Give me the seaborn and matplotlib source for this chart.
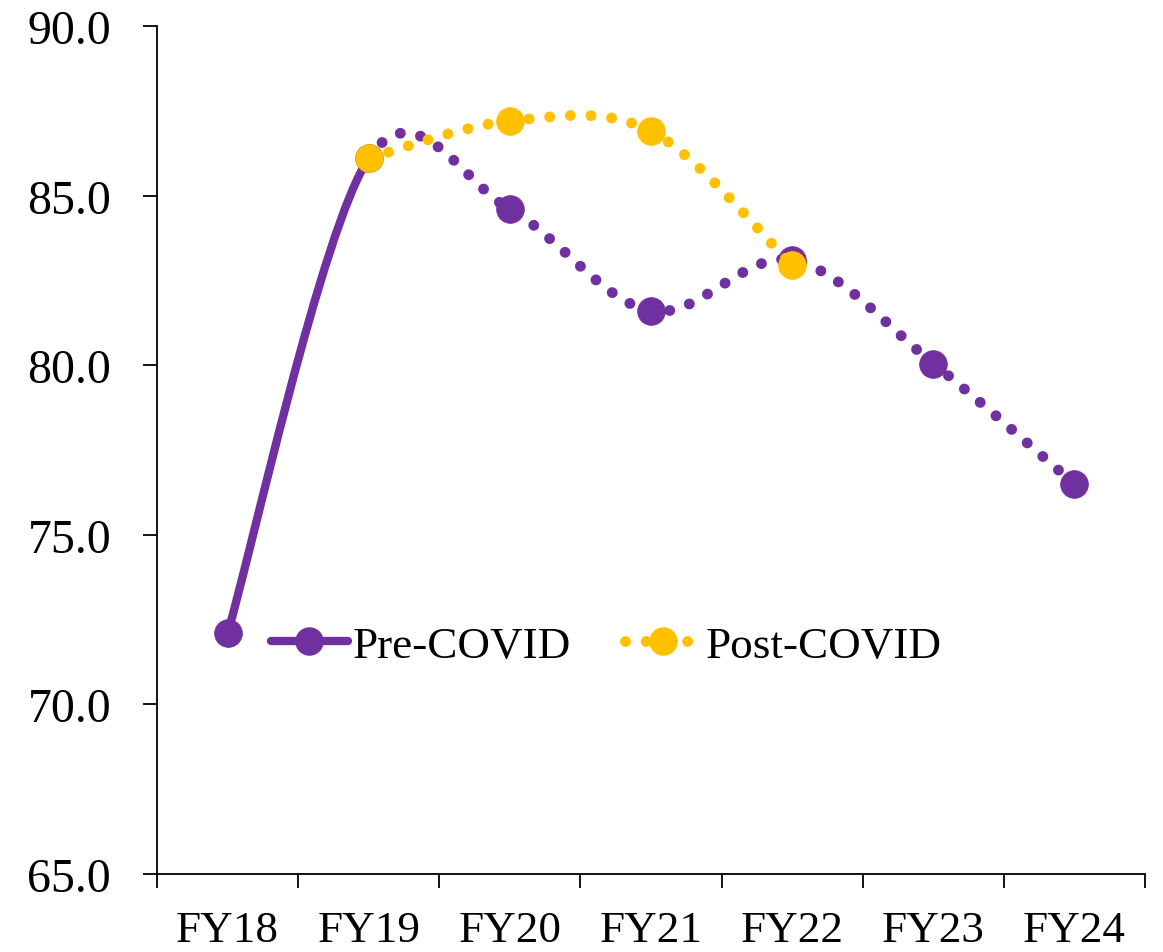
import matplotlib
matplotlib.use("Agg")
import matplotlib.pyplot as plt
import seaborn as sns
import pandas as pd
from matplotlib.path import Path
from matplotlib.patches import PathPatch
from matplotlib.lines import Line2D

# ---- data ----
years = ["FY18", "FY19", "FY20", "FY21", "FY22", "FY23", "FY24"]
pre_covid = [72.1, 86.1, 84.6, 81.6, 83.1, 80.05, 76.5]
post_covid_years = ["FY19", "FY20", "FY21", "FY22"]
post_covid = [86.1, 87.2, 86.9, 82.95]
y_ticks = [65.0, 70.0, 75.0, 80.0, 85.0, 90.0]

PURPLE = "#7030A0"
GOLD = "#FFC000"

sns.set_theme(style="white")
plt.rcParams['font.family'] = ['Liberation Serif', 'DejaVu Serif']
plt.rcParams['text.color'] = 'black'
plt.rcParams['xtick.color'] = 'black'
plt.rcParams['ytick.color'] = 'black'
plt.rcParams['xtick.labelcolor'] = 'black'
plt.rcParams['ytick.labelcolor'] = 'black'

fig = plt.figure(figsize=(11.63, 9.53), dpi=100)
ax = fig.add_axes([0.135, 0.0818, 0.8495, 0.8899])


def smooth_path(xs, ys, start, end):
    """Excel-like smoothed Bezier path for segments start..end-1 (via matplotlib Path)."""
    n = len(xs)
    verts, codes = [], []
    for i in range(start, end):
        p0 = (xs[max(i - 1, 0)], ys[max(i - 1, 0)])
        p1 = (xs[i], ys[i])
        p2 = (xs[i + 1], ys[i + 1])
        p3 = (xs[min(i + 2, n - 1)], ys[min(i + 2, n - 1)])
        c1 = (p1[0] + (p2[0] - p0[0]) / 6, p1[1] + (p2[1] - p0[1]) / 6)
        c2 = (p2[0] - (p3[0] - p1[0]) / 6, p2[1] - (p3[1] - p1[1]) / 6)
        if not verts:
            verts.append(p1)
            codes.append(Path.MOVETO)
        verts += [c1, c2, p2]
        codes += [Path.CURVE4] * 3
    return Path(verts, codes)


pos = {y: i for i, y in enumerate(years)}
pre_x = [pos[y] for y in years]
post_x = [pos[y] for y in post_covid_years]

dotted = (0, (0.01, 1.9))

# Pre-COVID: solid first segment, dotted afterwards
ax.add_patch(PathPatch(smooth_path(pre_x, pre_covid, 0, 1), fill=False,
                       edgecolor=PURPLE, lw=6, capstyle='round', zorder=2))
ax.add_patch(PathPatch(smooth_path(pre_x, pre_covid, 1, len(pre_x) - 1), fill=False,
                       edgecolor=PURPLE, lw=7.8, linestyle=dotted,
                       capstyle='round', zorder=2))
df_pre = pd.DataFrame({"x": pre_x, "y": pre_covid})
sns.scatterplot(data=df_pre, x="x", y="y", ax=ax, color=PURPLE, s=400,
                edgecolor=PURPLE, linewidth=0.5, zorder=3)

# Post-COVID
ax.add_patch(PathPatch(smooth_path(post_x, post_covid, 0, len(post_x) - 1), fill=False,
                       edgecolor=GOLD, lw=7.8, linestyle=dotted,
                       capstyle='round', zorder=4))
df_post = pd.DataFrame({"x": post_x, "y": post_covid})
sns.scatterplot(data=df_post, x="x", y="y", ax=ax, color=GOLD, s=400,
                edgecolor=GOLD, linewidth=0.5, zorder=5)

# axes
ax.set_xlim(-0.5, len(years) - 0.5)
ax.set_ylim(65, 90)
ax.set_xlabel("")
ax.set_ylabel("")
ax.set_yticks(y_ticks)
ax.set_yticklabels([f"{v:.1f}" for v in y_ticks])
ax.set_xticks([i - 0.5 for i in range(len(years) + 1)])
ax.set_xticklabels([])
ax.set_xticks(range(len(years)), minor=True)
ax.set_xticklabels(years, minor=True)
ax.tick_params(axis='x', which='major', length=10, width=1.3, color='black', direction='out', bottom=True)
ax.tick_params(axis='x', which='minor', length=0, pad=26, labelsize=32.5)
ax.tick_params(axis='y', length=10, width=1.3, color='black', direction='out', left=True,
               pad=23, labelsize=34.5)
for s in ["top", "right"]:
    ax.spines[s].set_visible(False)
for s in ["left", "bottom"]:
    ax.spines[s].set_color("black")
    ax.spines[s].set_linewidth(1.3)
ax.grid(False)

handles = [
    Line2D([], [], color=PURPLE, lw=6, marker='o', markersize=19.5, solid_capstyle='round'),
    Line2D([], [], color=GOLD, lw=7.8, linestyle=dotted, dash_capstyle='round',
           marker='o', markersize=19.5),
]
ax.legend(handles, ["Pre-COVID", "Post-COVID"], loc='center', bbox_to_anchor=(0.455, 0.269),
          ncol=2, frameon=False, fontsize=32.5, handlelength=1.7, handletextpad=0.1,
          columnspacing=1.2)

fig.savefig("out.png", dpi=100)
